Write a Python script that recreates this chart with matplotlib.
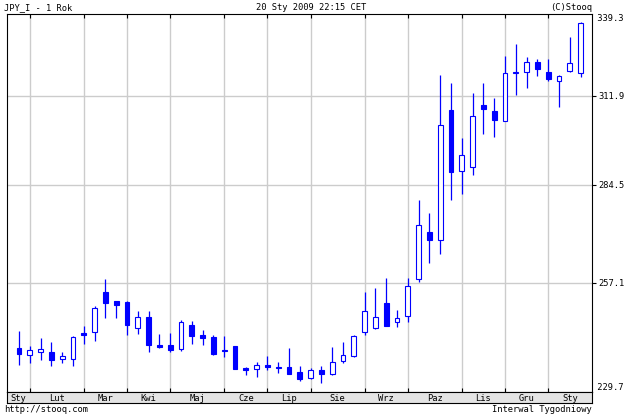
import numpy as np
import pandas as pd
import matplotlib
matplotlib.use('Agg')
import matplotlib.pyplot as plt
from matplotlib.ticker import FixedLocator, NullLocator, NullFormatter

# weekly candles JPY_I, one year, weeks ending on Friday
week_end = pd.date_range('2008-01-25', periods=53, freq='W-FRI')

opens = [240.3, 238.7, 239.5, 239.4, 237.7, 237.7, 244.1, 244.3, 254.7, 252.3,
         252.1, 245.4, 248.3, 241.1, 241.1, 240.1, 246.1, 243.5, 243.1, 239.9,
         240.8, 235.5, 235.2, 236.1, 235.7, 235.8, 234.5, 233.1, 235.0, 234.1,
         237.1, 238.4, 244.3, 245.4, 251.8, 246.9, 248.4, 258.2, 271.0, 268.6,
         307.3, 288.4, 289.7, 308.8, 307.1, 303.9, 319.4, 319.7, 322.9, 319.7,
         316.7, 319.9, 319.4]
highs = [244.7, 240.9, 242.9, 241.9, 239.5, 243.3, 245.9, 251.0, 258.0, 252.4,
         252.2, 249.8, 249.6, 243.9, 244.2, 247.4, 247.1, 244.9, 243.6, 243.4,
         240.9, 235.7, 236.9, 238.3, 236.9, 240.4, 236.0, 235.5, 236.0, 240.6,
         241.8, 243.7, 254.6, 255.6, 258.4, 249.9, 258.3, 280.1, 276.3, 318.5,
         316.0, 298.4, 312.8, 316.0, 311.0, 324.9, 328.9, 324.5, 323.9, 323.9,
         318.7, 331.4, 336.4]
lows = [236.2, 236.6, 237.4, 235.9, 236.8, 235.9, 241.4, 242.2, 248.0, 247.9,
        243.5, 243.8, 239.4, 240.3, 239.4, 239.7, 241.4, 241.0, 238.7, 238.2,
        235.2, 233.8, 233.4, 235.0, 234.3, 234.1, 232.3, 232.8, 231.9, 233.8,
        236.8, 238.2, 243.7, 245.1, 245.8, 245.7, 246.9, 257.3, 262.3, 264.8,
        279.9, 281.7, 287.4, 299.9, 299.0, 303.9, 312.0, 314.5, 318.4, 316.7,
        308.1, 319.5, 318.1]
closes = [238.9, 239.9, 240.1, 237.4, 238.3, 243.2, 243.6, 250.5, 251.8, 251.2,
          246.2, 248.3, 241.1, 240.6, 239.9, 246.8, 243.3, 242.9, 238.8, 239.7,
          235.3, 235.0, 236.1, 235.8, 235.5, 234.1, 232.9, 235.0, 233.9, 237.0,
          238.6, 243.4, 249.8, 248.1, 245.9, 247.9, 256.2, 273.0, 268.8, 302.5,
          288.1, 293.3, 305.5, 307.5, 304.2, 319.1, 319.6, 323.0, 320.6, 317.4,
          318.2, 322.6, 336.2]

price_min, price_max = 229.7, 339.3
price_ticks = [311.9, 284.5, 257.1]
month_names = ['Sty', 'Lut', 'Mar', 'Kwi', 'Maj', 'Cze', 'Lip', 'Sie', 'Wrz',
               'Paz', 'Lis', 'Gru']

BLUE = '#0000ff'
GRID = '#cccccc'
FONT = 'DejaVu Sans Mono'

o = np.array(opens)
h = np.array(highs)
l = np.array(lows)
c = np.array(closes)
x = np.arange(len(o))

fig = plt.figure(figsize=(6.25, 4.16), dpi=100)
fig.patch.set_facecolor('white')
ax = fig.add_axes([7 / 625, 1 - 392 / 416, 585 / 625, 378 / 416])
band = fig.add_axes([7 / 625, 1 - 403 / 416, 585 / 625, 11 / 416])

ax.set_yscale('log')
ax.set_ylim(price_min, price_max)
xlim = (-1.11, 53.06)
ax.set_xlim(*xlim)

# month boundaries = first week of each month
starts = [i for i in range(1, len(week_end)) if week_end[i].month != week_end[i - 1].month]
for s in starts:
    ax.axvline(s, color=GRID, lw=1.0, zorder=0)
for p in price_ticks:
    ax.axhline(p, color=GRID, lw=1.0, zorder=0)

# candles
ax.vlines(x, l, h, color=BLUE, lw=0.9, zorder=2)
up = c >= o
bottom = np.minimum(o, c)
height = np.maximum(np.abs(c - o), 0.15)
ax.bar(x, height, bottom=bottom, width=0.45, color=np.where(up, 'white', BLUE),
       edgecolor=BLUE, linewidth=0.8, zorder=3)

# axes styling
for side in ['left', 'right', 'top', 'bottom']:
    ax.spines[side].set_color('black')
    ax.spines[side].set_linewidth(0.8)
ax.xaxis.set_major_locator(FixedLocator(starts))
ax.xaxis.set_major_formatter(NullFormatter())
ax.tick_params(axis='x', which='both', direction='in', length=3, width=0.8,
               top=True, bottom=True, color='black')
ax.yaxis.set_minor_locator(NullLocator())
ax.yaxis.set_major_locator(FixedLocator(price_ticks))
ax.yaxis.set_major_formatter(matplotlib.ticker.FixedFormatter([f'{p:.1f}' for p in price_ticks]))
ax.yaxis.tick_right()
ax.tick_params(axis='y', which='major', direction='out', length=3, width=0.8,
               pad=1.5, labelsize=6.3, left=False, right=True)
for t in ax.get_yticklabels():
    t.set_fontfamily(FONT)
ax.text(1.0, 1.0, f' {price_max:.1f}', transform=ax.transAxes, ha='left', va='top',
        fontsize=6.3, family=FONT)
ax.text(1.0, 0.0, f' {price_min:.1f}', transform=ax.transAxes, ha='left', va='bottom',
        fontsize=6.3, family=FONT)

# month band under the chart
band.set_xlim(*xlim)
band.set_ylim(0, 1)
band.set_facecolor('#e4e4e4')
band.set_xticks([])
band.set_yticks([])
for side in ['left', 'right', 'top', 'bottom']:
    band.spines[side].set_color('black')
    band.spines[side].set_linewidth(0.8)
edges = [xlim[0]] + starts + [xlim[1]]
seg_first = [0] + starts
for a, b, i in zip(edges[:-1], edges[1:], seg_first):
    band.text((a + b) / 2, 0.45, month_names[week_end[i].month - 1], ha='center',
              va='center', fontsize=6.3, family=FONT)

# header / footer
fig.text(4 / 625, 1 - 8 / 416, 'JPY_I - 1 Rok', ha='left', va='center', fontsize=6.3, family=FONT)
fig.text(311 / 625, 1 - 8 / 416, '20 Sty 2009 22:15 CET', ha='center', va='center',
         fontsize=6.3, family=FONT)
fig.text(592 / 625, 1 - 8 / 416, '(C)Stooq', ha='right', va='center', fontsize=6.3, family=FONT)
fig.text(4 / 625, 1 - 410 / 416, 'http://stooq.com', ha='left', va='center', fontsize=6.3, family=FONT)
fig.text(592 / 625, 1 - 410 / 416, 'Interwal Tygodniowy', ha='right', va='center',
         fontsize=6.3, family=FONT)

fig.savefig('out.png', dpi=100, facecolor='white')
